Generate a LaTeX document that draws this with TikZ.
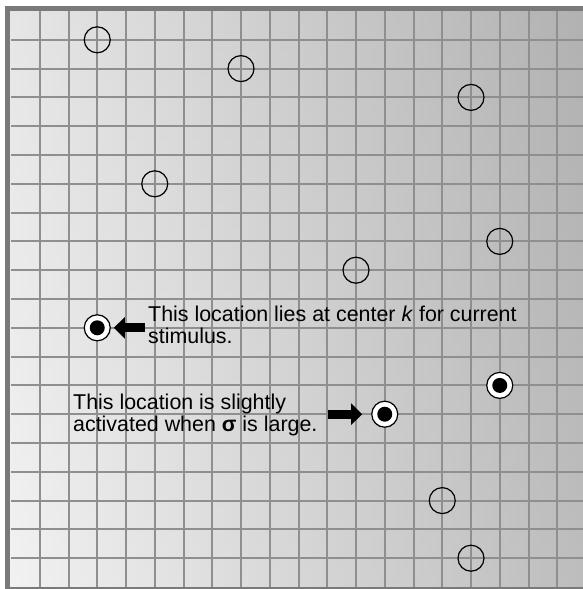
\documentclass[tikz,border=0pt]{standalone}
\usepackage{fontspec}
\setmainfont{Liberation Sans}
\usetikzlibrary{arrows.meta}
\definecolor{gridgray}{gray}{0.56}
\definecolor{framegray}{gray}{0.48}

\begin{document}
\begin{tikzpicture}[
    x=1pt, y=-1pt,
    every node/.style={font=\fontsize{21.4}{22}\selectfont},
    gridline/.style={draw=gridgray, line width=2pt},
    loc/.style={circle, draw, line width=1.2pt, minimum size=26pt, inner sep=0pt},
    hit/.style={loc, fill=white, path picture={\fill[black] (path picture bounding box.center) circle (7.5pt);}},
    note/.style={align=left, inner sep=0pt, anchor=north west},
    blk/.style={line width=9pt, -{Triangle[width=21pt, length=11pt]}}
]
\useasboundingbox (0,0) rectangle (583,589);
% shaded sheet
\shade[left color=white, right color=white!72!black] (8,8) rectangle (589,589);
\shade[top color=white!62!black, middle color=white, bottom color=white!80!black, opacity=0.25] (8,8) rectangle (589,589);

% grid of locations
\begin{scope}[shift={(11,11)}, x=28.75pt, y=-28.8pt]
\foreach \k in {1,...,19} {
  \draw[gridline] (\k,0) -- (\k,20);
  \draw[gridline] (0,\k) -- (20,\k);
}
\foreach \i/\j [count=\n] in {3/1, 8/2, 16/3, 5/6, 17/8, 12/9, 15/17, 16/19}
  \node[loc] (loc\n) at (\i,\j) {};
\node[hit] (ctr) at (3,11) {};
\node[hit] (act) at (17,13) {};
\node[hit] (weak) at (13,14) {};
\end{scope}
\draw[framegray, line width=5pt] (7.5,8.5) rectangle (588.5,589.5);

% notes
\node[note] (ctrNote) at (148,306) {This location lies at center \textit{k} for current\\stimulus.};
\node[note] (weakNote) at (73,394) {This location is slightly\\activated when \textbf{σ} is large.};
\draw[blk, shorten <=3pt, shorten >=3pt] (ctrNote.west |- ctr) -- (ctr.east);
\draw[blk, shorten <=10pt, shorten >=9pt] (weakNote.east |- weak) -- (weak.west);
\end{tikzpicture}
\end{document}
